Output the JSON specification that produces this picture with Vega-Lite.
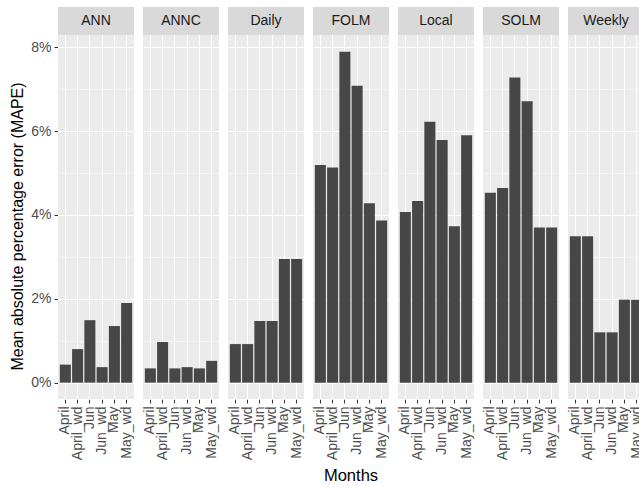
{
  "$schema": "https://vega.github.io/schema/vega-lite/v6.json",
  "padding": {"left": 9, "top": 7, "right": 0, "bottom": 2},
  "background": "white",
  "data": {"values": [
    {"panel": "ANN", "month": "April", "mape": 0.0043},
    {"panel": "ANN", "month": "April_wd", "mape": 0.0080},
    {"panel": "ANN", "month": "Jun", "mape": 0.0149},
    {"panel": "ANN", "month": "Jun_wd", "mape": 0.0037},
    {"panel": "ANN", "month": "May", "mape": 0.0135},
    {"panel": "ANN", "month": "May_wd", "mape": 0.0190},
    {"panel": "ANNC", "month": "April", "mape": 0.0034},
    {"panel": "ANNC", "month": "April_wd", "mape": 0.0097},
    {"panel": "ANNC", "month": "Jun", "mape": 0.0034},
    {"panel": "ANNC", "month": "Jun_wd", "mape": 0.0037},
    {"panel": "ANNC", "month": "May", "mape": 0.0034},
    {"panel": "ANNC", "month": "May_wd", "mape": 0.0052},
    {"panel": "Daily", "month": "April", "mape": 0.0092},
    {"panel": "Daily", "month": "April_wd", "mape": 0.0092},
    {"panel": "Daily", "month": "Jun", "mape": 0.0147},
    {"panel": "Daily", "month": "Jun_wd", "mape": 0.0147},
    {"panel": "Daily", "month": "May", "mape": 0.0295},
    {"panel": "Daily", "month": "May_wd", "mape": 0.0295},
    {"panel": "FOLM", "month": "April", "mape": 0.0519},
    {"panel": "FOLM", "month": "April_wd", "mape": 0.0513},
    {"panel": "FOLM", "month": "Jun", "mape": 0.0789},
    {"panel": "FOLM", "month": "Jun_wd", "mape": 0.0708},
    {"panel": "FOLM", "month": "May", "mape": 0.0428},
    {"panel": "FOLM", "month": "May_wd", "mape": 0.0387},
    {"panel": "Local", "month": "April", "mape": 0.0407},
    {"panel": "Local", "month": "April_wd", "mape": 0.0433},
    {"panel": "Local", "month": "Jun", "mape": 0.0622},
    {"panel": "Local", "month": "Jun_wd", "mape": 0.0579},
    {"panel": "Local", "month": "May", "mape": 0.0373},
    {"panel": "Local", "month": "May_wd", "mape": 0.0590},
    {"panel": "SOLM", "month": "April", "mape": 0.0453},
    {"panel": "SOLM", "month": "April_wd", "mape": 0.0464},
    {"panel": "SOLM", "month": "Jun", "mape": 0.0728},
    {"panel": "SOLM", "month": "Jun_wd", "mape": 0.0671},
    {"panel": "SOLM", "month": "May", "mape": 0.0370},
    {"panel": "SOLM", "month": "May_wd", "mape": 0.0370},
    {"panel": "Weekly", "month": "April", "mape": 0.0349},
    {"panel": "Weekly", "month": "April_wd", "mape": 0.0349},
    {"panel": "Weekly", "month": "Jun", "mape": 0.0120},
    {"panel": "Weekly", "month": "Jun_wd", "mape": 0.0120},
    {"panel": "Weekly", "month": "May", "mape": 0.0198},
    {"panel": "Weekly", "month": "May_wd", "mape": 0.0198}
  ]},
  "facet": {"column": {"field": "panel", "type": "nominal",
    "title": "Months",
    "header": {"labels": false, "titleOrient": "bottom", "titleFontSize": 16.5, "titleFontWeight": "normal", "titleColor": "black", "titlePadding": -2},
    "sort": ["ANN", "ANNC", "Daily", "FOLM", "Local", "SOLM", "Weekly"]}},
  "spacing": 9,
  "spec": {
    "width": 76,
    "height": 392,
    "layer": [
      {
        "mark": {"type": "bar", "color": "#474747"},
        "encoding": {
          "x": {"field": "month", "type": "nominal",
            "sort": ["April", "April_wd", "Jun", "Jun_wd", "May", "May_wd"],
            "scale": {"paddingInner": 0.1, "paddingOuter": 0.15},
            "title": null,
            "axis": {"labelAngle": -90, "labelAlign": "right", "labelBaseline": "middle",
              "bandPosition": 0.5, "grid": true, "gridColor": "white", "gridWidth": 1,
              "domain": false, "tickColor": "#333333", "tickSize": 4, "tickWidth": 1,
              "labelPadding": 3, "labelColor": "#4d4d4d", "labelFontSize": 14}},
          "y": {"field": "mape", "type": "quantitative",
            "scale": {"domain": [-0.0039, 0.0896], "nice": false, "zero": false},
            "title": "Mean absolute percentage error (MAPE)",
            "axis": {"values": [0, 0.01, 0.02, 0.03, 0.04, 0.05, 0.06, 0.07, 0.08],
              "labelExpr": "round(datum.value*100) % 2 === 0 ? format(datum.value, '.0%') : ''",
              "grid": true, "gridColor": "white",
              "gridWidth": {"condition": {"test": "round(datum.value*100) % 2 === 0", "value": 1.1}, "value": 0.5},
              "tickOpacity": {"condition": {"test": "round(datum.value*100) % 2 === 0", "value": 1}, "value": 0},
              "domain": false, "tickColor": "#333333", "tickSize": 4, "tickWidth": 1,
              "labelPadding": 3, "labelColor": "#4d4d4d", "labelFontSize": 14,
              "titleFontSize": 16, "titleFontWeight": "normal", "titleColor": "black", "titlePadding": 5,
              "titleY": 219}}
        }
      },
      {
        "transform": [{"filter": "datum.month === 'April'"}],
        "mark": {"type": "rect", "color": "#d9d9d9"},
        "encoding": {"y": {"datum": 0.0829}, "y2": {"datum": 0.0896}}
      },
      {
        "transform": [{"filter": "datum.month === 'April'"}],
        "mark": {"type": "text", "fontSize": 14, "color": "#1a1a1a", "baseline": "middle", "align": "center"},
        "encoding": {"y": {"datum": 0.0862}, "text": {"field": "panel", "type": "nominal"}}
      }
    ]
  },
  "config": {
    "font": "Liberation Sans",
    "view": {"fill": "#ebebeb", "stroke": null}
  }
}
